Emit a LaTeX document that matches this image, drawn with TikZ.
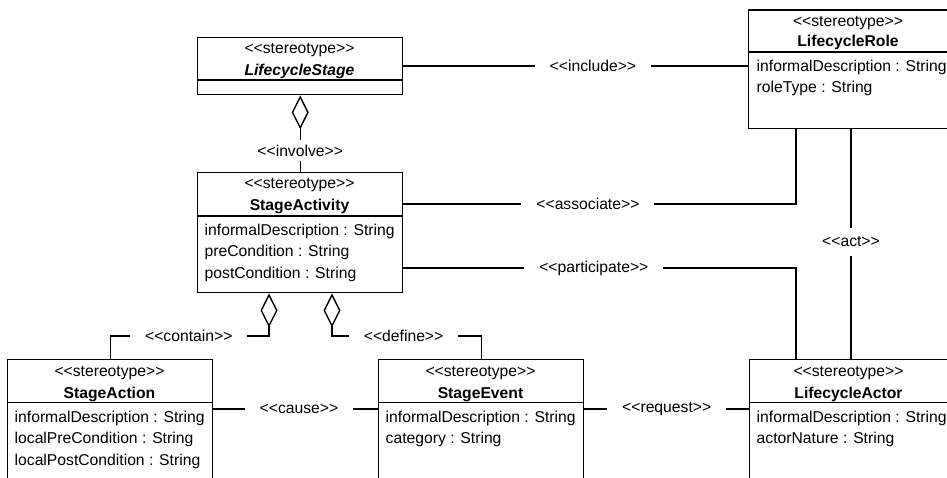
\documentclass[tikz,border=0pt]{standalone}
\usepackage{fontspec}
\setmainfont{Liberation Sans}[Ligatures=TeXOff]
\usetikzlibrary{arrows.meta}
\begin{document}
\begin{tikzpicture}[x=1pt,y=-1pt,line width=1.4pt,
  font=\fontsize{15.7}{19}\selectfont,
  classbox/.style={draw,anchor=north west,inner sep=0pt},
  stereo/.style={anchor=base,inner sep=0pt},
  cname/.style={anchor=base,inner sep=0pt,font=\fontsize{15.7}{19}\selectfont\bfseries},
  attr/.style={anchor=base west,inner sep=0pt},
  lbl/.style={fill=white,inner xsep=15pt,inner ysep=5pt},
  agg/.style={-{Diamond[open,length=34pt,width=17pt]}}]
\clip (0,0) rectangle (947,478);
\fill[white] (0,0) rectangle (947,478);

% ---- LifecycleStage ----
\node[classbox,minimum width=205pt,minimum height=57pt] (stage) at (197,37) {};
\node[stereo] (stageSt) at (299.5,54) {<<stereotype>>};
\node[cname,font=\fontsize{15.7}{19}\selectfont\bfseries\itshape] (stageNm) at (299.5,76) {LifecycleStage};
\draw (stage.west |- 0,80) -- (stage.east |- 0,80);

% ---- LifecycleRole ----
\node[classbox,minimum width=200pt,minimum height=118.5pt] (role) at (748,9.5) {};
\node[stereo] (roleSt) at (848,27) {<<stereotype>>};
\node[cname] (roleNm) at (848,47) {LifecycleRole};
\draw (role.west |- 0,52) -- (role.east |- 0,52);
\node[attr] (roleA1) at (756,71.5) {informalDescription : String};
\node[attr] (roleA2) at (756,93) {roleType : String};

% ---- StageActivity ----
\node[classbox,minimum width=205pt,minimum height=120pt] (activity) at (197,172) {};
\node[stereo] (actSt) at (299.5,189) {<<stereotype>>};
\node[cname] (actNm) at (299.5,211) {StageActivity};
\draw (activity.west |- 0,216) -- (activity.east |- 0,216);
\node[attr] (actA1) at (204,235.5) {informalDescription : String};
\node[attr] (actA2) at (204,257) {preCondition : String};
\node[attr] (actA3) at (204,278.5) {postCondition : String};

% ---- StageAction ----
\node[classbox,minimum width=205pt,minimum height=120pt] (action) at (7,359) {};
\node[stereo] (acnSt) at (109.5,376) {<<stereotype>>};
\node[cname] (acnNm) at (109.5,398) {StageAction};
\draw (action.west |- 0,402.5) -- (action.east |- 0,402.5);
\node[attr] (acnA1) at (14,422) {informalDescription : String};
\node[attr] (acnA2) at (14,443.5) {localPreCondition : String};
\node[attr] (acnA3) at (14,465) {localPostCondition : String};

% ---- StageEvent ----
\node[classbox,minimum width=205pt,minimum height=120pt] (event) at (378,359) {};
\node[stereo] (evtSt) at (480.5,376) {<<stereotype>>};
\node[cname] (evtNm) at (480.5,398) {StageEvent};
\draw (event.west |- 0,402.5) -- (event.east |- 0,402.5);
\node[attr] (evtA1) at (385,422) {informalDescription : String};
\node[attr] (evtA2) at (385,443.5) {category : String};

% ---- LifecycleActor ----
\node[classbox,minimum width=199pt,minimum height=120pt] (actor) at (749,359) {};
\node[stereo] (actrSt) at (848.5,376) {<<stereotype>>};
\node[cname] (actrNm) at (848.5,398) {LifecycleActor};
\draw (actor.west |- 0,402.5) -- (actor.east |- 0,402.5);
\node[attr] (actrA1) at (756,422) {informalDescription : String};
\node[attr] (actrA2) at (756,443.5) {actorNature : String};

% ---- routing levels ----
\coordinate (yAssoc) at (0,204);
\coordinate (yPart) at (0,268);
\coordinate (xRoute) at (796,0);
\coordinate (xAct) at (851,0);
\coordinate (yAgg) at (0,336);
\coordinate (xCont) at (269,0);
\coordinate (xDef) at (332,0);
\coordinate (yLow) at (0,409);

% ---- associations ----
\draw (stage.east) -- node[lbl,pos=0.55] (lInc) {<<include>>} (stage.east -| role.west);
\draw[agg] (activity.north) -- node[lbl,pos=0.28] (lInv) {<<involve>>} (stage.south);
\draw (activity.east |- yAssoc) -- node[lbl,pos=0.47] (lAsc) {<<associate>>} (xRoute |- yAssoc) -- (xRoute |- role.south);
\draw (activity.east |- yPart) -- node[lbl,pos=0.485] (lPar) {<<participate>>} (xRoute |- yPart) -- (xRoute |- actor.north);
\draw (xAct |- role.south) -- node[lbl,inner ysep=9pt,pos=0.49] (lAct) {<<act>>} (xAct |- actor.north);
\draw[agg] (action.north) -- (action.north |- yAgg) -- node[lbl,pos=0.495] (lCon) {<<contain>>} (xCont |- yAgg) -- (xCont |- activity.south);
\draw[agg] (event.north) -- (event.north |- yAgg) -- node[lbl,pos=0.52] (lDef) {<<define>>} (xDef |- yAgg) -- (xDef |- activity.south);
\draw (action.east |- yLow) -- node[lbl,pos=0.52] (lCau) {<<cause>>} (event.west |- yLow);
\draw (event.east |- yLow) -- node[lbl,pos=0.5] (lReq) {<<request>>} (actor.west |- yLow);
\end{tikzpicture}
\end{document}
